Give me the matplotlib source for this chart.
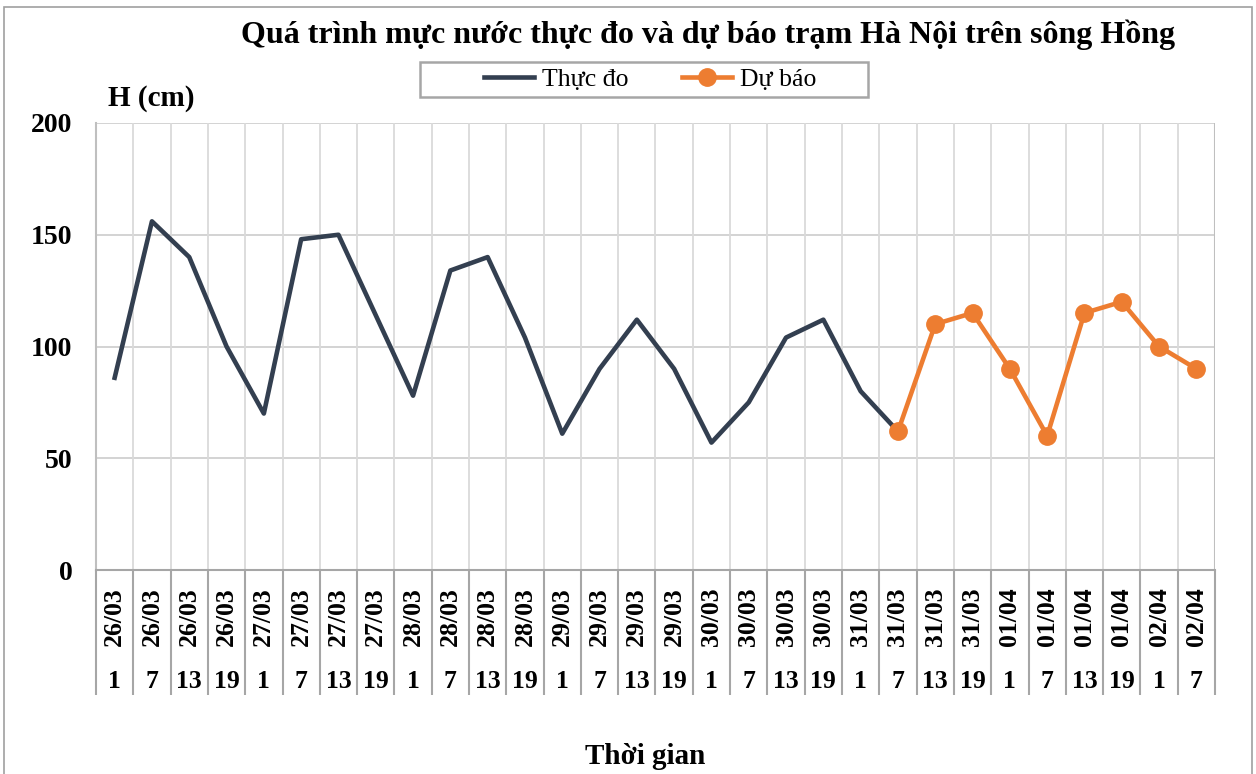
import matplotlib
matplotlib.use("Agg")
import matplotlib.pyplot as plt
from matplotlib.lines import Line2D
from matplotlib.patches import Rectangle

# category labels (two-level axis: date / hour)
dates = ["26/03"] * 4 + ["27/03"] * 4 + ["28/03"] * 4 + ["29/03"] * 4 + \
        ["30/03"] * 4 + ["31/03"] * 4 + ["01/04"] * 4 + ["02/04"] * 2
hours = ["1", "7", "13", "19"] * 7 + ["1", "7"]

# observed water level (cm), 26/03 1h -> 31/03 7h
observed = [86, 156, 140, 100, 70, 148, 150, 114, 78, 134, 140, 104,
            61, 90, 112, 90, 57, 75, 104, 112, 80, 62]
# forecast (cm), 31/03 7h -> 02/04 7h
forecast = [62, 110, 115, 90, 60, 115, 120, 100, 90]

yticks = [0, 50, 100, 150, 200]

DARK = "#333F50"
ORANGE = "#ED7D31"
FONT = "Liberation Serif"

plt.rcParams["font.family"] = FONT
plt.rcParams["font.weight"] = "bold"

W, H = 1256, 774
fig = plt.figure(figsize=(W / 100, H / 100), dpi=100)

# outer chart border
fig.patches.append(Rectangle((4 / W, -0.01), (1252 - 4) / W, 1 - 7 / H + 0.01,
                             transform=fig.transFigure, fill=False,
                             edgecolor="#A0A0A0", linewidth=1.2))

left, right, top, bottom = 96, 1215, 123, 570
ax = fig.add_axes([left / W, 1 - bottom / H, (right - left) / W, (bottom - top) / H])

n = len(dates)
x_obs = list(range(len(observed)))
x_fc = list(range(len(observed) - 1, len(observed) - 1 + len(forecast)))

ax.plot(x_obs, observed, color=DARK, linewidth=3.3, zorder=3)
ax.plot(x_fc, forecast, color=ORANGE, linewidth=3.3, marker="o",
        markersize=12.5, zorder=4)

ax.set_xlim(-0.5, n - 0.5)
ax.set_ylim(0, 200)
ax.set_yticks(yticks)
ax.set_yticklabels([str(v) for v in yticks], fontsize=20, fontweight="bold")
ax.tick_params(axis="y", length=0, pad=17)
ax.set_xticks([])

# grid
for v in yticks[1:]:
    ax.axhline(v, color="#D0D0D0", linewidth=1.3, zorder=1)
for b in range(n + 1):
    ax.axvline(b - 0.5, color="#DADADA", linewidth=1.3, zorder=1)

for side in ["top", "right"]:
    ax.spines[side].set_visible(False)
ax.spines["left"].set_color("#BFBFBF")
ax.spines["left"].set_linewidth(1.5)
ax.spines["bottom"].set_color("#A6A6A6")
ax.spines["bottom"].set_linewidth(1.5)

# two-level category table below the plot
trans = ax.get_xaxis_transform()
tab_depth = (695 - bottom) / (bottom - top)
ax.vlines([b - 0.5 for b in range(n + 1)], -tab_depth, 0, transform=trans,
          colors="#A6A6A6", linewidth=1.5, clip_on=False)
ax.axvline(n - 0.5, color="#BFBFBF", linewidth=1.5)
for i in range(n):
    ax.text(i, -(617 - bottom) / (bottom - top), dates[i], transform=trans,
            rotation=90, ha="center", va="center", fontsize=18.5,
            fontweight="bold")
    ax.text(i, -(681 - bottom) / (bottom - top), hours[i], transform=trans,
            ha="center", va="center", fontsize=18.5, fontweight="bold")

# titles
fig.text(708 / W, 1 - 35 / H,
         "Quá trình mực nước thực đo và dự báo trạm Hà Nội trên sông Hồng",
         ha="center", va="center", fontsize=23, fontweight="bold")
fig.text(108 / W, 1 - 99 / H, "H (cm)", ha="left", va="center",
         fontsize=21, fontweight="bold")
fig.text(645 / W, 1 - 757 / H, "Thời gian", ha="center", va="center",
         fontsize=21, fontweight="bold")

# legend (frame drawn separately to match the wide box)
fig.patches.append(Rectangle((420 / W, 1 - 97 / H), (868 - 420) / W, 35 / H,
                             transform=fig.transFigure, fill=False,
                             edgecolor="#A6A6A6", linewidth=1.8))
handles = [Line2D([], [], color=DARK, linewidth=3.3),
           Line2D([], [], color=ORANGE, linewidth=3.3, marker="o",
                  markersize=12.5)]
fig.legend(handles, ["Thực đo", "Dự báo"], loc="center",
           bbox_to_anchor=(650 / W, 1 - 80 / H), ncol=2, frameon=False,
           handlelength=1.95, handletextpad=0.3, columnspacing=2.1,
           borderpad=0.2,
           prop={"family": FONT, "size": 18.5, "weight": "normal"})

fig.savefig("out.png", dpi=100)
